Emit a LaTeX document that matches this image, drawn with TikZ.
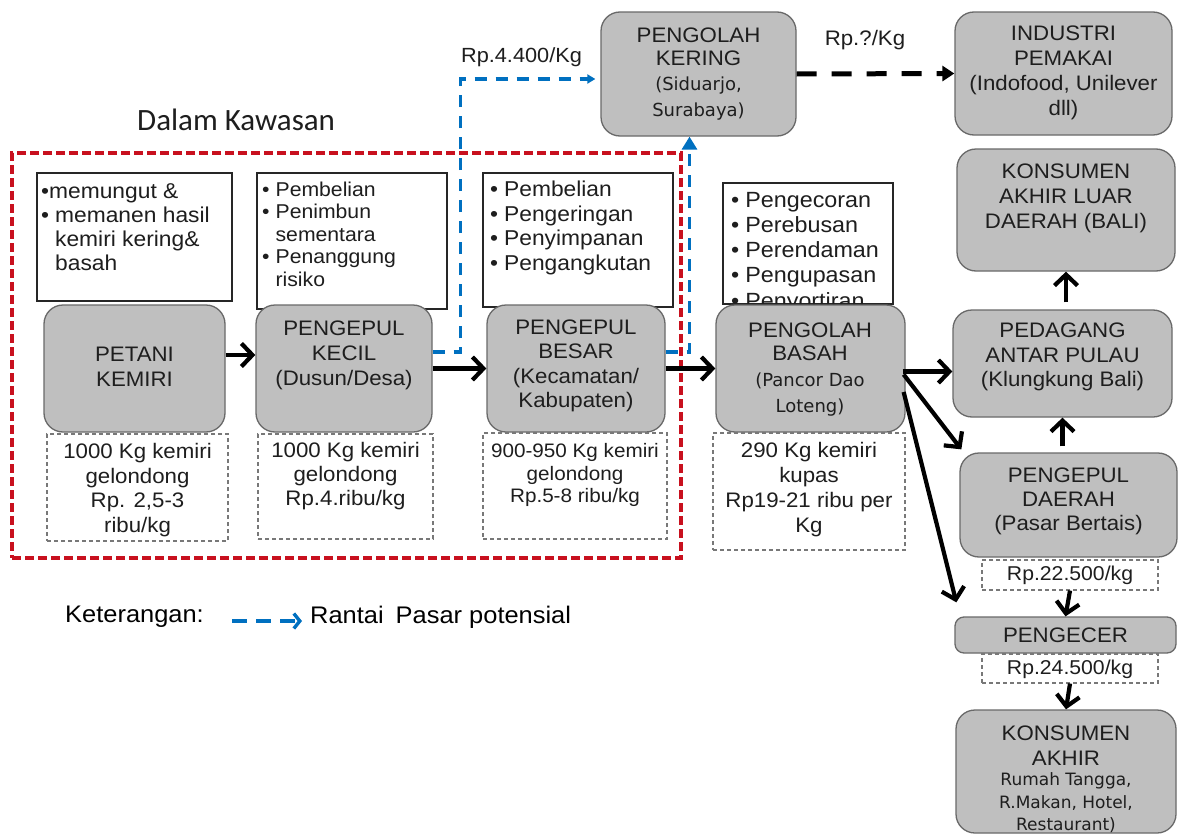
\documentclass[tikz,border=0pt]{standalone}
\usepackage{fontspec}
\setmainfont{Liberation Sans}[FakeStretch=1.06]
\newfontfamily\tahfont{DejaVu Sans}
\newfontfamily\calfont{Carlito}
\usetikzlibrary{arrows.meta}

\definecolor{boxfill}{RGB}{191,191,191}
\definecolor{boxline}{RGB}{105,105,105}
\definecolor{inkgray}{RGB}{30,30,30}
\definecolor{chainblue}{RGB}{0,112,192}
\definecolor{zonered}{RGB}{200,16,30}
\definecolor{dashgray}{RGB}{120,120,120}

\newcommand\fsz[2]{\fontsize{#1}{#2}\selectfont}
\newcommand\bul{\textbullet\hspace{6pt}}
\newcommand\bulsp{\hphantom{\textbullet\hspace{6pt}}}

\tikzset{
  gbox/.style={draw=boxline, fill=boxfill, line width=1.3pt, rounded corners=19pt, inner sep=0pt},
  wbox/.style={draw=black!85, fill=white, line width=1.1pt, inner sep=0pt},
  dbox/.style={draw=dashgray, line width=1.1pt, dash pattern=on 4pt off 3pt, inner sep=0pt},
  zone/.style={draw=zonered, line width=3.4pt, dash pattern=on 9pt off 4pt, inner sep=0pt},
  txt/.style={text=inkgray, inner sep=0pt, align=center},
  ltxt/.style={text=inkgray, inner sep=0pt, align=left, anchor=north west},
  arr/.style={draw=black, line width=4.2pt, -{Straight Barb[length=11pt,width=23pt]}},
  pot/.style={draw=chainblue, line width=3.2pt, dash pattern=on 12pt off 9pt},
  potlegend/.style={draw=chainblue, line width=3.4pt, dash pattern=on 15pt off 9pt,
    -{Straight Barb[length=6pt,width=15pt]}},
  offer/.style={draw=black, line width=5pt, dash pattern=on 20pt off 15pt,
    -{Triangle[length=12pt,width=15pt]}},
}

\begin{document}
\begin{tikzpicture}[x=1pt,y=-1pt]
\useasboundingbox[fill=white] (0,0) rectangle (1179,835);

% zone of the district
\node[zone, minimum width=669pt, minimum height=405pt] (kawasan) at (346.5,355.5) {};
\node[text=inkgray, inner sep=0pt, anchor=west, font=\calfont\fsz{31}{36}] (judul) at (137,120) {Dalam Kawasan};

% activity boxes
\node[wbox, minimum width=195pt, minimum height=128pt] (w1) at (134.5,237) {};
\node[ltxt, font=\fsz{21.5}{24}] (w1t) at (41,183)
  {\textbullet memungut \&\\\bul memanen hasil\\\bulsp kemiri kering\&\\\bulsp basah};
\node[wbox, minimum width=190pt, minimum height=136pt] (w2) at (352,241) {};
\node[ltxt, font=\fsz{20}{22.5}] (w2t) at (262,181.5)
  {\bul Pembelian\\\bul Penimbun\\\bulsp sementara\\\bul Penanggung\\\bulsp risiko};
\node[wbox, minimum width=190pt, minimum height=134pt] (w3) at (578,240) {};
\node[ltxt, font=\fsz{21.5}{24.5}] (w3t) at (490,181)
  {\bul Pembelian\\\bul Pengeringan\\\bul Penyimpanan\\\bul Pengangkutan};
\node[wbox, minimum width=170pt, minimum height=121pt] (w4) at (808,243.5) {};
\node[ltxt, font=\fsz{22}{25.2}] (w4t) at (731,192)
  {\bul Pengecoran\\\bul Perebusan\\\bul Perendaman\\\bul Pengupasan\\\bul Penyortiran};

% actors
\node[gbox, minimum width=181pt, minimum height=127pt] (petani) at (134.5,368.5) {};
\node[gbox, minimum width=176pt, minimum height=127pt] (kecil) at (344,368.5) {};
\node[gbox, minimum width=178pt, minimum height=127pt] (besar) at (576,368.5) {};
\node[gbox, minimum width=189pt, minimum height=127pt] (basah) at (810.5,368.5) {};
\node[gbox, minimum width=195pt, minimum height=124pt] (kering) at (698.5,74) {};
\node[gbox, minimum width=217pt, minimum height=123pt] (industri) at (1063.5,73.5) {};
\node[gbox, minimum width=218pt, minimum height=122pt] (luar) at (1066,210) {};
\node[gbox, minimum width=219pt, minimum height=107pt] (pedagang) at (1062.5,363.5) {};
\node[gbox, minimum width=217pt, minimum height=104pt] (daerah) at (1068.5,505) {};
\node[gbox, rounded corners=9pt, minimum width=221pt, minimum height=36pt] (pengecer) at (1065.5,635) {};
\node[gbox, minimum width=220pt, minimum height=123pt] (akhir) at (1066,771.5) {};

\node[txt, font=\fsz{21}{25}] (petanit) at (134.5,367) {PETANI\\KEMIRI};
\node[txt, font=\fsz{21}{25}] (kecilt) at (344,355) {PENGEPUL\\KECIL\\(Dusun/Desa)};
\node[txt, font=\fsz{21}{24.5}] (besart) at (576,366) {PENGEPUL\\BESAR\\(Kecamatan/\\Kabupaten)};
\node[txt, font=\fsz{21}{23}] (basaht) at (810,341.5) {PENGOLAH\\BASAH};
\node[txt, font=\tahfont\fsz{18}{26}] (basahl) at (810,395) {(Pancor Dao\\Loteng)};
\node[txt, font=\fsz{21}{23}] (keringt) at (698.5,46.5) {PENGOLAH\\KERING};
\node[txt, font=\tahfont\fsz{18}{26}] (keringl) at (698.5,99) {(Siduarjo,\\Surabaya)};
\node[txt, font=\fsz{21}{25}] (industrit) at (1063.5,72.5) {INDUSTRI\\PEMAKAI\\(Indofood, Unilever\\dll)};
\node[txt, font=\fsz{21}{25}] (luart) at (1066,198) {KONSUMEN\\AKHIR LUAR\\DAERAH (BALI)};
\node[txt, font=\fsz{21}{24.5}] (pedagangt) at (1062.5,357) {PEDAGANG\\ANTAR PULAU\\(Klungkung Bali)};
\node[txt, font=\fsz{21}{24}] (daeraht) at (1068.5,501) {PENGEPUL\\DAERAH\\(Pasar Bertais)};
\node[txt, font=\fsz{21}{24}] (pengecert) at (1065.5,635) {PENGECER};
\node[txt, font=\fsz{21}{25}] (akhirt) at (1066,745.5) {KONSUMEN\\AKHIR};
\node[txt, font=\tahfont\fsz{17}{22.5}] (akhirl) at (1066,803) {Rumah Tangga,\\R.Makan, Hotel,\\Restaurant)};

% volumes and prices
\node[dbox, minimum width=181pt, minimum height=107pt] (d1) at (137.5,487.5) {};
\node[txt, font=\fsz{21}{24.5}] (d1t) at (137.5,490) {1000 Kg kemiri\\gelondong\\Rp. 2,5-3\\ribu/kg};
\node[dbox, minimum width=175pt, minimum height=105pt] (d2) at (345.5,486.5) {};
\node[txt, font=\fsz{21}{24}] (d2t) at (345.5,476) {1000 Kg kemiri\\gelondong\\Rp.4.ribu/kg};
\node[dbox, minimum width=184pt, minimum height=106pt] (d3) at (575,486) {};
\node[txt, font=\fsz{19.5}{22.5}] (d3t) at (575,475) {900-950 Kg kemiri\\gelondong\\Rp.5-8 ribu/kg};
\node[dbox, minimum width=192pt, minimum height=117pt] (d4) at (809,491.5) {};
\node[txt, font=\fsz{21}{25}] (d4t) at (809,490) {290 Kg kemiri\\kupas\\Rp19-21 ribu per\\Kg};
\node[dbox, minimum width=176pt, minimum height=30pt] (p22) at (1070,575) {};
\node[txt, font=\fsz{20}{24}] (p22t) at (1070,575) {Rp.22.500/kg};
\node[dbox, minimum width=176pt, minimum height=29pt] (p24) at (1070,668.5) {};
\node[txt, font=\fsz{20}{24}] (p24t) at (1070,669) {Rp.24.500/kg};

% main chain
\draw[arr] ([yshift=13.5pt]petani.east) -- ([yshift=13.5pt]kecil.west);
\draw[arr] (kecil.east) -- (besar.west);
\draw[arr] (besar.east) -- (basah.west);
\draw[arr] ([xshift=-3pt,yshift=-3pt]basah.east) -- ([yshift=-3pt]basah.east -| pedagang.west);
\draw[arr] ([xshift=-2pt,yshift=-6pt]basah.east) -- ([xshift=2pt,yshift=3pt]daerah.north west);
\draw[arr] ([xshift=-2pt,yshift=-23.5pt]basah.east) -- ([xshift=2pt,yshift=14pt]pengecer.north west);
\draw[arr, shorten <=7pt] (luar.south |- pedagang.north) -- (luar.south);
\draw[arr, shorten <=6pt] (pedagang.south |- daerah.north) -- (pedagang.south);
\draw[arr] (p22.south) -- (pengecer.north);
\draw[arr] (p24.south) -- (akhir.north);

% potential chain
\draw[pot, -{Triangle[length=8pt,width=9pt]}, shorten >=5pt]
  ([yshift=16.5pt]kecil.east) -- ++(28,0) |- ([yshift=-5pt]kering.west);
\node[text=inkgray, inner sep=0pt, font=\fsz{20.5}{24}] (hargakering) at (521.5,57) {Rp.4.400/Kg};
\draw[pot, -{Triangle[length=13pt,width=15pt]}]
  ([yshift=16.5pt]besar.east) -| ([xshift=-9pt]kering.south);
\draw[offer] (kering.east) -- (industri.west);
\node[text=inkgray, inner sep=0pt, font=\fsz{21}{24}] (hargaindustri) at (865,40) {Rp.?/Kg};

% legend
\node[text=black, inner sep=0pt, anchor=west, font=\fsz{24}{28}] (ket) at (65,617) {Keterangan:};
\coordinate (lgA) at (232,621);
\coordinate (lgB) at (302,621);
\draw[potlegend] (lgA) -- (lgB);
\node[text=black, inner sep=0pt, anchor=west, font=\fsz{24}{28}] (ketisi) at (310,617) {Rantai\enspace Pasar potensial};
\end{tikzpicture}
\end{document}
